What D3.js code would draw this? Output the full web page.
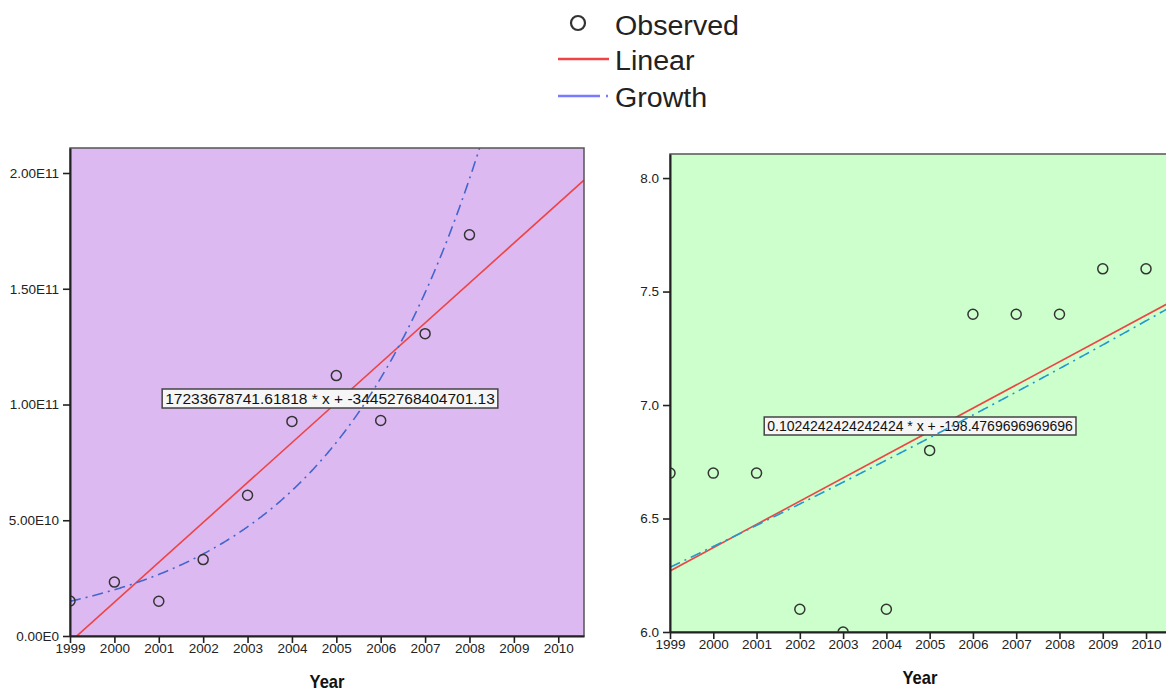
<!DOCTYPE html>
<html lang="en">
<head>
<meta charset="UTF-8">
<title>Curve fit</title>
<script src="https://d3js.org/d3.v7.min.js"></script>
<style>
  body { margin: 0; background: #fff; }
  text { font-family: "Liberation Sans", Arial, sans-serif; }
</style>
</head>
<body>
<div id="main"></div>
<script>
// data
var years = [1999, 2000, 2001, 2002, 2003, 2004, 2005, 2006, 2007, 2008, 2009, 2010];
var leftObserved = [1.51e10, 2.33e10, 1.50e10, 3.30e10, 6.08e10, 9.27e10, 1.125e11, 9.31e10, 1.306e11, 1.733e11, null, null];
var rightObserved = [6.7, 6.7, 6.7, 6.1, 6.0, 6.1, 6.8, 7.4, 7.4, 7.4, 7.6, 7.6];
var leftTicks = [0, 5e10, 1e11, 1.5e11, 2e11];
var leftTickLabels = ["0.00E0", "5.00E10", "1.00E11", "1.50E11", "2.00E11"];
var rightTicks = [6.0, 6.5, 7.0, 7.5, 8.0];
var rightTickLabels = ["6.0", "6.5", "7.0", "7.5", "8.0"];

// model coefficients: linear as printed, growth estimated  y = exp(b0 + b1*(x-1999))
var leftLinear = [17233678741.61818, -34452768404701.13];
var rightLinear = [0.1024242424242424, -198.4769696969696];
var leftGrowth = [Math.log(1.5e10), 0.2864];
var rightGrowth = [Math.log(6.285), 0.01449];
var leftLabel = "17233678741.61818 * x + -34452768404701.13";
var rightLabel = "0.1024242424242424 * x + -198.4769696969696";

var svg = d3.select("#main").append("svg").attr("width", 1166).attr("height", 691);

// legend
var lg = svg.append("g");
lg.append("circle").attr("cx", 578).attr("cy", 23).attr("r", 7)
  .attr("fill", "none").attr("stroke", "#333").attr("stroke-width", 2.2);
lg.append("line").attr("x1", 558).attr("x2", 609).attr("y1", 59).attr("y2", 59)
  .attr("stroke", "#ee4444").attr("stroke-width", 2.5);
lg.append("line").attr("x1", 558).attr("x2", 609).attr("y1", 96).attr("y2", 96)
  .attr("stroke", "#7a7aff").attr("stroke-width", 2.5).attr("stroke-dasharray", "42,6,2,4");
[["Observed", 35], ["Linear", 70], ["Growth", 107]].forEach(function(d){
  lg.append("text").attr("x", 615).attr("y", d[1]).attr("font-size", 27).attr("fill", "#222")
    .attr("transform", "translate(615,0) scale(1.06,1) translate(-615,0)").text(d[0]);
});

function drawPanel(o){
  var g = svg.append("g");
  var x = d3.scaleLinear().domain([1999, o.xMax]).range([o.left, o.right]);
  var y = d3.scaleLinear().domain([o.yMin, o.yMax]).range([o.bottom, o.top]);

  g.append("rect").attr("x", o.left).attr("y", o.top)
    .attr("width", o.right - o.left).attr("height", o.bottom - o.top).attr("fill", o.bg);

  var clipId = "clip" + o.id;
  svg.append("clipPath").attr("id", clipId).append("rect")
    .attr("x", o.left).attr("y", o.top).attr("width", o.right - o.left).attr("height", o.bottom - o.top);
  var inner = g.append("g").attr("clip-path", "url(#" + clipId + ")");

  // linear fit
  inner.append("line")
    .attr("x1", x(1999)).attr("y1", y(o.linear[0] * 1999 + o.linear[1]))
    .attr("x2", x(o.xMax)).attr("y2", y(o.linear[0] * o.xMax + o.linear[1]))
    .attr("stroke", "#ee4444").attr("stroke-width", 1.6);

  // equation box
  var lab = inner.append("text").attr("x", o.labelX).attr("y", o.labelY)
    .attr("text-anchor", "middle").attr("font-size", o.labelSize).attr("fill", "#111").text(o.label);
  var bb = lab.node().getBBox();
  inner.insert("rect", "text").attr("x", bb.x - 3).attr("y", bb.y - 1)
    .attr("width", bb.width + 6).attr("height", bb.height + 2)
    .attr("fill", "#f6f6f6").attr("stroke", "#444").attr("stroke-width", 1.5);

  // growth fit
  var xs = d3.range(1999, o.xMax + 0.001, 0.02);
  inner.append("path")
    .attr("d", d3.line().x(function(d){ return x(d); })
      .y(function(d){ return y(Math.exp(o.growth[0] + o.growth[1] * (d - 1999))); })(xs))
    .attr("fill", "none").attr("stroke", o.growthColor).attr("stroke-width", 1.6)
    .attr("stroke-dasharray", "11,5,2,5");

  // observed
  inner.selectAll("circle.obs")
    .data(years.map(function(yr, i){ return [yr, o.values[i]]; }).filter(function(d){ return d[1] != null; }))
    .enter().append("circle").attr("class", "obs")
    .attr("cx", function(d){ return x(d[0]); }).attr("cy", function(d){ return y(d[1]); })
    .attr("r", 5).attr("fill", "none").attr("stroke", "#333").attr("stroke-width", 1.5);

  // frame
  g.append("rect").attr("x", o.left).attr("y", o.top)
    .attr("width", o.right - o.left).attr("height", o.bottom - o.top)
    .attr("fill", "none").attr("stroke", "#555").attr("stroke-width", 1.5);

  var xa = g.append("g").attr("transform", "translate(0," + o.bottom + ")")
    .call(d3.axisBottom(x).tickValues(years).tickFormat(d3.format("d")).tickSize(7).tickSizeOuter(0));
  var ya = g.append("g").attr("transform", "translate(" + o.left + ",0)")
    .call(d3.axisLeft(y).tickValues(o.yTicks).tickFormat(function(d, i){ return o.yTickLabels[i]; })
      .tickSize(7).tickSizeOuter(0));
  [xa, ya].forEach(function(a){
    a.select(".domain").attr("stroke", "#222").attr("stroke-width", 2);
    a.selectAll(".tick line").attr("stroke", "#222").attr("stroke-width", 1.6);
    a.selectAll(".tick text").attr("font-size", 13.5).attr("fill", "#222")
      .attr("font-family", "'Liberation Sans', Arial, sans-serif");
  });
  xa.selectAll(".tick text").attr("dy", "0.5em");
  ya.selectAll(".tick text").attr("dx", "-1px");

  g.append("text").attr("x", o.titleX).attr("y", o.titleY).attr("text-anchor", "middle")
    .attr("font-size", 18).attr("font-weight", "bold").attr("fill", "#111")
    .attr("transform", "translate(" + o.titleX + ",0) scale(0.92,1) translate(" + (-o.titleX) + ",0)")
    .text("Year");
}

drawPanel({
  id: "L", left: 70, right: 584, top: 148, bottom: 636, xMax: 2010.58,
  yMin: 0, yMax: 2.108e11, bg: "#ddb9f2", values: leftObserved,
  yTicks: leftTicks, yTickLabels: leftTickLabels,
  linear: leftLinear, growth: leftGrowth, growthColor: "#4466cc",
  label: leftLabel, labelSize: 15.5, labelX: 330, labelY: 404, titleX: 327, titleY: 688
});

drawPanel({
  id: "R", left: 670, right: 1172, top: 154, bottom: 632, xMax: 2010.6,
  yMin: 6.0, yMax: 8.106, bg: "#ccffcc", values: rightObserved,
  yTicks: rightTicks, yTickLabels: rightTickLabels,
  linear: rightLinear, growth: rightGrowth, growthColor: "#2299cc",
  label: rightLabel, labelSize: 14, labelX: 920, labelY: 431, titleX: 920, titleY: 684
});
</script>
</body>
</html>
